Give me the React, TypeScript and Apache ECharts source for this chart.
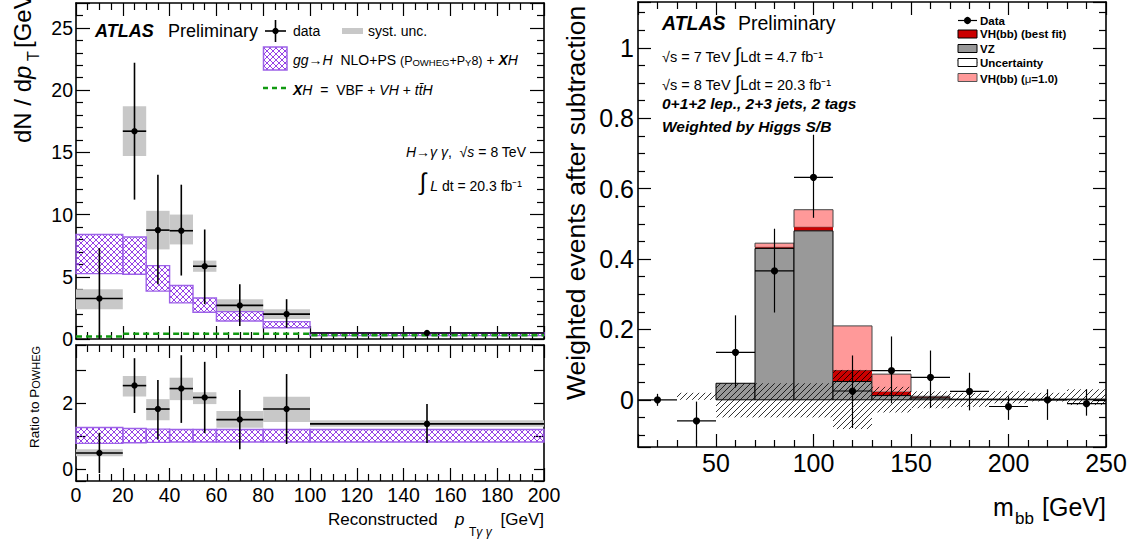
import React, { useEffect, useRef } from "react";
import * as echarts from "echarts";

const FONT = '"Liberation Sans", Arial, Helvetica, sans-serif';

// ---------- Left plot: H -> gamma gamma, reconstructed pT ----------
const ptEdges = [0, 20, 30, 40, 50, 60, 80, 100, 200];
const ptData = [3.25, 16.7, 8.75, 8.7, 5.85, 2.7, 2.0, 0.48];
const ptErrHi = [7.3, 22.2, 13.2, 12.4, 8.8, 4.4, 3.2, 0.62];
const ptErrLo = [0.0, 11.2, 4.4, 5.1, 2.8, 1.05, 0.9, 0.34];
const ptSystHi = [4.0, 18.7, 10.3, 10.0, 6.3, 3.2, 2.4, 0.52];
const ptSystLo = [2.4, 14.7, 7.2, 7.6, 5.4, 2.25, 1.6, 0.44];
const ggHHi = [8.4, 8.2, 5.9, 4.3, 3.3, 2.2, 1.4, 0.5];
const ggHLo = [5.25, 5.2, 3.85, 2.9, 2.15, 1.45, 0.9, 0.27];
const xhVals = [0.2, 0.43, 0.43, 0.43, 0.43, 0.43, 0.43, 0.3];

const ratioData = [0.49, 2.53, 1.82, 2.44, 2.17, 1.5, 1.82, 1.37];
const ratioErrHi = [1.1, 3.36, 2.7, 3.45, 3.25, 2.4, 2.88, 1.97];
const ratioErrLo = [-0.12, 1.7, 0.9, 1.4, 1.09, 0.6, 0.76, 0.79];
const ratioSystHi = [0.6, 2.82, 2.12, 2.77, 2.33, 1.76, 2.19, 1.48];
const ratioSystLo = [0.39, 2.2, 1.48, 2.09, 1.97, 1.25, 1.43, 1.28];
const ratioBandHi = [1.26, 1.23, 1.21, 1.2, 1.2, 1.2, 1.2, 1.2];
const ratioBandLo = [0.78, 0.8, 0.81, 0.82, 0.82, 0.82, 0.82, 0.82];

const ptTickLabels = [0, 20, 40, 60, 80, 100, 120, 140, 160, 180, 200];
const dndpTickLabels = [0, 5, 10, 15, 20, 25];
const ratioTickLabels = [0, 2];

// ---------- Right plot: m_bb ----------
const mbbEdges = [10, 30, 50, 70, 90, 110, 130, 150, 170, 190, 210, 230, 250];
const vzVals = [0, 0, 0.047, 0.43, 0.48, 0.052, 0.012, 0.005, 0.002, 0.002, 0.002, 0.002];
const vhFitVals = [0, 0, 0, 0.003, 0.01, 0.031, 0.01, 0.001, 0, 0, 0, 0];
const vhSMVals = [0, 0, 0, 0.012, 0.05, 0.127, 0.051, 0.004, 0, 0, 0, 0];
const uncLoVals = [0, 0, -0.05, -0.05, -0.05, -0.083, -0.036, -0.024, -0.02, -0.01, -0.005, -0.015];
const uncHiVals = [0, 0.02, 0.047, 0.047, 0.047, 0.085, 0.037, 0.024, 0.02, 0.025, 0.02, 0.03];
const mbbData = [0.0, -0.06, 0.135, 0.366, 0.632, 0.025, 0.083, 0.064, 0.024, -0.019, 0.0, -0.011];
const mbbErrHi = [0.017, -0.005, 0.24, 0.486, 0.753, 0.126, 0.18, 0.14, 0.077, 0.01, 0.03, 0.03];
const mbbErrLo = [-0.017, -0.125, 0.035, 0.248, 0.517, -0.08, -0.01, -0.023, -0.03, -0.057, -0.057, -0.045];

const mbbTickLabels = [50, 100, 150, 200, 250];
const weightTickLabels = [0, 0.2, 0.4, 0.6, 0.8, 1];

// ---------- colours ----------
const PURPLE = "#8a2be2";
const PURPLE_EDGE = "#9d62e8";
const SYST_GRAY = "#c8c8c8";
const GREEN = "#119a11";

// ---------- helpers ----------
function hatchLines(x0: number, y0: number, x1: number, y1: number, step: number, dir: string, style: any) {
  const out: any[] = [];
  if (x1 - x0 < 0.5 || y1 - y0 < 0.5) return out;
  if (dir === "/") {
    const start = Math.ceil((x0 + y0) / step) * step;
    for (let c = start; c <= x1 + y1; c += step) {
      const lo = Math.max(x0, c - y1);
      const hi = Math.min(x1, c - y0);
      if (hi - lo > 0.3) out.push({ type: "line", shape: { x1: lo, y1: c - lo, x2: hi, y2: c - hi }, style });
    }
  } else {
    const start = Math.ceil((y0 - x1) / step) * step;
    for (let c = start; c <= y1 - x0; c += step) {
      const lo = Math.max(x0, y0 - c);
      const hi = Math.min(x1, y1 - c);
      if (hi - lo > 0.3) out.push({ type: "line", shape: { x1: lo, y1: lo + c, x2: hi, y2: hi + c }, style });
    }
  }
  return out;
}

const boxRows = (edges: number[], lo: number[], hi: number[]) => lo.map((l, i) => [edges[i], edges[i + 1], l, hi[i]]);
const pointRows = (edges: number[], v: number[], lo: number[], hi: number[]) =>
  v.map((y, i) => [edges[i], edges[i + 1], y, lo[i], hi[i]]);

const rectOf = (api: any) => {
  const a = api.coord([api.value(0), api.value(2)]);
  const b = api.coord([api.value(1), api.value(3)]);
  return { x0: a[0], x1: b[0], yb: a[1], yt: b[1] };
};

const renderBox = (fill: string) => (_p: any, api: any) => {
  const r = rectOf(api);
  return { type: "rect", shape: { x: r.x0, y: r.yt, width: r.x1 - r.x0, height: r.yb - r.yt }, style: { fill } };
};

const renderCross = (_p: any, api: any) => {
  const r = rectOf(api);
  const st = { stroke: PURPLE, lineWidth: 0.9 };
  return {
    type: "group",
    children: [
      ...hatchLines(r.x0, r.yt, r.x1, r.yb, 6, "/", st),
      ...hatchLines(r.x0, r.yt, r.x1, r.yb, 6, "\\", st),
      {
        type: "rect",
        shape: { x: r.x0, y: r.yt, width: r.x1 - r.x0, height: r.yb - r.yt },
        style: { fill: "none", stroke: PURPLE_EDGE, lineWidth: 1.4 },
      },
    ],
  };
};

const renderPoint = (rad: number, lw: number) => (_p: any, api: any) => {
  const x0 = api.value(0), x1 = api.value(1), v = api.value(2), lo = api.value(3), hi = api.value(4);
  const xc = (x0 + x1) / 2;
  const c = api.coord([xc, v]);
  const l = api.coord([x0, v]);
  const r = api.coord([x1, v]);
  const t = api.coord([xc, hi]);
  const b = api.coord([xc, lo]);
  const st = { stroke: "#000", lineWidth: lw };
  return {
    type: "group",
    children: [
      { type: "line", shape: { x1: l[0], y1: c[1], x2: r[0], y2: c[1] }, style: st },
      { type: "line", shape: { x1: c[0], y1: t[1], x2: c[0], y2: b[1] }, style: st },
      { type: "circle", shape: { cx: c[0], cy: c[1], r: rad }, style: { fill: "#000" } },
    ],
  };
};

const renderStack = (_p: any, api: any) => {
  const x0 = api.value(0), x1 = api.value(1), vz = api.value(2), fit = api.value(3), sm = api.value(4);
  const levels = [0, vz, vz + fit, vz + fit + sm];
  const py = levels.map((v) => api.coord([x0, v])[1]);
  const xl = api.coord([x0, 0])[0];
  const xr = api.coord([x1, 0])[0];
  const rect = (ya: number, yb: number, style: any) => ({
    type: "rect",
    shape: { x: xl, y: yb, width: xr - xl, height: ya - yb },
    style,
  });
  const ch: any[] = [];
  if (sm > 0) ch.push(rect(py[2], py[3], { fill: "#ff9999", stroke: "#444", lineWidth: 1 }));
  if (fit > 0) ch.push(rect(py[1], py[2], { fill: "#cc0000" }));
  if (vz > 0) ch.push(rect(py[0], py[1], { fill: "#999999", stroke: "#000", lineWidth: 1 }));
  return { type: "group", children: ch };
};

const renderUnc = (_p: any, api: any) => {
  const r = rectOf(api);
  return { type: "group", children: hatchLines(r.x0, r.yt, r.x1, r.yb, 6, "/", { stroke: "#000", lineWidth: 0.8 }) };
};

const custom = (xi: number, yi: number, data: any[], renderItem: any, z: number) => ({
  type: "custom",
  xAxisIndex: xi,
  yAxisIndex: yi,
  data,
  renderItem,
  z,
  silent: true,
});

function mkAxis(gridIndex: number, position: string, min: number, max: number, o: any) {
  const labels: number[] | undefined = o.labels;
  return {
    type: "value",
    gridIndex,
    position,
    min,
    max,
    interval: o.interval,
    splitNumber: o.splitNumber,
    axisLine: { show: true, onZero: false, lineStyle: { color: "#000", width: 1.6 } },
    axisTick: { show: true, inside: true, length: o.major, lineStyle: { color: "#000", width: 1.2 } },
    minorTick: {
      show: !!o.minorSplit,
      splitNumber: o.minorSplit || 5,
      length: o.minor,
      lineStyle: { color: "#000", width: 1.2 },
    },
    splitLine: { show: false },
    minorSplitLine: { show: false },
    axisPointer: { show: false },
    axisLabel: labels
      ? {
          show: true,
          margin: o.margin,
          fontSize: o.fontSize,
          fontFamily: FONT,
          color: "#000",
          showMinLabel: true,
          showMaxLabel: true,
          formatter: (v: number) => {
            const hit = labels.find((l) => Math.abs(l - v) < 1e-6);
            return hit === undefined ? "" : String(hit);
          },
        }
      : { show: false },
  };
}

const rt = (size: number, style = "normal", weight = "normal", extra: any = {}) => ({
  fontFamily: FONT,
  fontSize: size,
  fontStyle: style,
  fontWeight: weight,
  fill: "#000",
  verticalAlign: "bottom",
  lineHeight: Math.round(size * 1.25),
  ...extra,
});

const txt = (x: number, y: number, text: string, size: number, ex: any = {}) => ({
  type: "text",
  x,
  y,
  silent: true,
  rotation: ex.rotation || 0,
  z: 50,
  style: {
    text,
    fill: "#000",
    fontFamily: FONT,
    fontSize: size,
    fontWeight: ex.weight || "normal",
    fontStyle: ex.italic ? "italic" : "normal",
    align: ex.align || "left",
    verticalAlign: ex.va || "middle",
    textAlign: ex.align || "left",
    textVerticalAlign: ex.va || "middle",
    rich: ex.rich,
  },
});

const ln = (x1: number, y1: number, x2: number, y2: number, style: any) => ({
  type: "line",
  silent: true,
  z: 50,
  shape: { x1, y1, x2, y2 },
  style,
});

const box = (x: number, y: number, w: number, h: number, style: any) => ({
  type: "rect",
  silent: true,
  z: 50,
  shape: { x, y, width: w, height: h },
  style,
});

function buildOption() {
  const gRow = (v: number[]) => [...ptEdges.slice(0, -1).map((e, i) => [e, v[i]]), [ptEdges[ptEdges.length - 1], v[v.length - 1]]];

  const leftX = { interval: 20, minorSplit: 4, major: 13, minor: 7 };
  const xAxis = [
    mkAxis(0, "bottom", 0, 200, leftX),
    mkAxis(0, "top", 0, 200, leftX),
    mkAxis(1, "bottom", 0, 200, { ...leftX, labels: ptTickLabels, fontSize: 19.5, margin: 4 }),
    mkAxis(1, "top", 0, 200, leftX),
    mkAxis(2, "bottom", 10, 250, { splitNumber: 5, minorSplit: 5, major: 13, minor: 7, labels: mbbTickLabels, fontSize: 25, margin: 3 }),
    mkAxis(2, "top", 10, 250, { splitNumber: 5, minorSplit: 5, major: 13, minor: 7 }),
  ];
  const topY = { interval: 5, minorSplit: 5, major: 14, minor: 7 };
  const ratioY = { splitNumber: 4, minorSplit: 0, major: 10, minor: 5 };
  const rightY = { splitNumber: 6, minorSplit: 4, major: 13, minor: 7 };
  const yAxis = [
    mkAxis(0, "left", 0, 27, { ...topY, labels: dndpTickLabels, fontSize: 19.5, margin: 3 }),
    mkAxis(0, "right", 0, 27, topY),
    mkAxis(1, "left", -0.36, 3.76, { ...ratioY, labels: ratioTickLabels, fontSize: 19.5, margin: 3 }),
    mkAxis(1, "right", -0.36, 3.76, ratioY),
    mkAxis(2, "left", -0.134, 1.13, { ...rightY, labels: weightTickLabels, fontSize: 25, margin: 4 }),
    mkAxis(2, "right", -0.134, 1.13, rightY),
  ];

  const series: any[] = [
    // left top panel
    custom(0, 0, boxRows(ptEdges, ptSystLo, ptSystHi), renderBox(SYST_GRAY), 2),
    custom(0, 0, boxRows(ptEdges, ggHLo, ggHHi), renderCross, 3),
    {
      type: "line",
      xAxisIndex: 0,
      yAxisIndex: 0,
      data: gRow(xhVals),
      step: "end",
      symbol: "none",
      silent: true,
      z: 4,
      lineStyle: { color: GREEN, width: 2.5, type: [6, 4] },
    },
    custom(0, 0, pointRows(ptEdges, ptData, ptErrLo, ptErrHi), renderPoint(3.2, 1.6), 5),
    // left ratio panel
    custom(2, 2, boxRows(ptEdges, ratioSystLo, ratioSystHi), renderBox(SYST_GRAY), 2),
    custom(2, 2, boxRows(ptEdges, ratioBandLo, ratioBandHi), renderCross, 3),
    custom(2, 2, pointRows(ptEdges, ratioData, ratioErrLo, ratioErrHi), renderPoint(3.2, 1.6), 5),
    // right panel
    custom(
      4,
      4,
      vzVals.map((v, i) => [mbbEdges[i], mbbEdges[i + 1], v, vhFitVals[i], vhSMVals[i]]),
      renderStack,
      2
    ),
    custom(4, 4, boxRows(mbbEdges, uncLoVals, uncHiVals), renderUnc, 3),
    custom(4, 4, pointRows(mbbEdges, mbbData, mbbErrLo, mbbErrHi), renderPoint(3.6, 1.2), 5),
  ];

  const purpleBox = { x0: 263.5, y0: 47, x1: 287, y1: 70 };
  const legendHatch = { stroke: PURPLE, lineWidth: 0.9 };
  const uncBox = { x0: 958, y0: 58.5, x1: 977, y1: 66.5 };

  const elements: any[] = [
    // ---- left plot labels ----
    txt(95, 31, "ATLAS", 18, { weight: "bold", italic: true }),
    txt(168, 31, "Preliminary", 18),
    ln(275.5, 20, 275.5, 42, { stroke: "#000", lineWidth: 1.6 }),
    ln(265, 31, 286, 31, { stroke: "#000", lineWidth: 1.6 }),
    { type: "circle", silent: true, z: 50, shape: { cx: 275.5, cy: 31, r: 3.2 }, style: { fill: "#000" } },
    txt(293, 31, "data", 14),
    box(342, 28, 21, 6, { fill: SYST_GRAY }),
    txt(368, 31, "syst. unc.", 14),
    {
      type: "group",
      silent: true,
      z: 50,
      children: [
        ...hatchLines(purpleBox.x0, purpleBox.y0, purpleBox.x1, purpleBox.y1, 6, "/", legendHatch),
        ...hatchLines(purpleBox.x0, purpleBox.y0, purpleBox.x1, purpleBox.y1, 6, "\\", legendHatch),
        {
          type: "rect",
          shape: { x: purpleBox.x0, y: purpleBox.y0, width: purpleBox.x1 - purpleBox.x0, height: purpleBox.y1 - purpleBox.y0 },
          style: { fill: "none", stroke: PURPLE_EDGE, lineWidth: 1.5 },
        },
      ],
    },
    txt(293, 58, "{i|gg}{n|→}{i|H}{n|  NLO+PS }{p|(P}{sc|OWHEG}{p|+P}{sc|Y}{p|8)}{n| + }{bi|X}{i|H}", 14, {
      rich: {
        n: rt(14),
        i: rt(14, "italic"),
        bi: rt(14, "italic", "bold"),
        p: rt(12.5),
        sc: rt(9.5),
      },
    }),
    ln(263, 88, 287, 88, { stroke: GREEN, lineWidth: 2.5, lineDash: [5, 4] }),
    txt(293, 88, "{bi|X}{i|H}{n|  =  VBF + }{i|VH}{n| + }{i|tt̄H}", 14, {
      rich: { n: rt(14), i: rt(14, "italic"), bi: rt(14, "italic", "bold") },
    }),
    txt(526, 150, "{i|H}{n|→}{i|γ γ}{n|,  √}{i|s}{n| = 8 TeV}", 14, {
      align: "right",
      rich: { n: rt(14), i: rt(14, "italic") },
    }),
    txt(522, 180, "{int|∫}{i| L}{n| dt = 20.3 fb⁻¹}", 14, {
      align: "right",
      rich: { n: rt(14), i: rt(14, "italic"), int: rt(24, "normal", "normal", { lineHeight: 26 }) },
    }),
    // left y title
    txt(22, 143, "{n|dN / d}{i|p}", 24, {
      rotation: Math.PI / 2,
      rich: { n: rt(24, "normal", "normal", { verticalAlign: "middle" }), i: rt(24, "italic", "normal", { verticalAlign: "middle" }) },
    }),
    txt(33, 61, "T", 16, { rotation: Math.PI / 2 }),
    txt(22, 48, "[GeV⁻¹]", 24, { rotation: Math.PI / 2 }),
    // ratio title
    txt(33, 448, "{n|Ratio to P}{sc|OWHEG}", 13.5, {
      rotation: Math.PI / 2,
      rich: { n: rt(13.5), sc: rt(11) },
    }),
    // left x title
    txt(328, 519, "Reconstructed", 17),
    txt(455, 519, "p", 17, { italic: true }),
    txt(469, 530, "{n|T}{i|γ γ}", 12, { rich: { n: rt(12), i: rt(12, "italic") } }),
    txt(544, 519, "[GeV]", 17, { align: "right" }),

    // ---- right plot labels ----
    txt(662, 23, "ATLAS", 19.5, { weight: "bold", italic: true }),
    txt(738, 23, "Preliminary", 19.5),
    txt(662, 52, "{n|√s = 7 TeV }{int|∫}{n|Ldt = 4.7 fb⁻¹}", 14.5, {
      rich: { n: rt(14.5), int: rt(20) },
    }),
    txt(662, 80, "{n|√s = 8 TeV }{int|∫}{n|Ldt = 20.3 fb⁻¹}", 14.5, {
      rich: { n: rt(14.5), int: rt(20) },
    }),
    txt(662, 103, "0+1+2 lep., 2+3 jets, 2 tags", 15.5, { weight: "bold", italic: true }),
    txt(662, 126, "Weighted by Higgs S/B", 15.5, { weight: "bold", italic: true }),
    // right legend
    ln(958, 20.5, 977, 20.5, { stroke: "#000", lineWidth: 1.2 }),
    { type: "circle", silent: true, z: 50, shape: { cx: 967.5, cy: 20.5, r: 3.6 }, style: { fill: "#000" } },
    txt(980, 20.5, "Data", 11.5, { weight: "bold" }),
    box(958, 30, 19, 8, { fill: "#cc0000", stroke: "#000", lineWidth: 1 }),
    txt(980, 34, "VH(bb) (best fit)", 11.5, { weight: "bold" }),
    box(958, 44.5, 19, 8, { fill: "#999999", stroke: "#000", lineWidth: 1 }),
    txt(980, 48.5, "VZ", 11.5, { weight: "bold" }),
    box(uncBox.x0, uncBox.y0, uncBox.x1 - uncBox.x0, uncBox.y1 - uncBox.y0, { fill: "#fff", stroke: "#000", lineWidth: 1 }),
    {
      type: "group",
      silent: true,
      z: 51,
      children: hatchLines(uncBox.x0, uncBox.y0, uncBox.x1, uncBox.y1, 3.5, "/", { stroke: "#000", lineWidth: 1 }),
    },
    txt(980, 62.5, "Uncertainty", 11.5, { weight: "bold" }),
    box(958, 73.5, 19, 8, { fill: "#ff9999", stroke: "#555", lineWidth: 1 }),
    txt(980, 77.5, "{b|VH(bb) (}{m|μ}{b|=1.0)}", 11.5, {
      rich: { b: rt(11.5, "normal", "bold"), m: rt(11.5) },
    }),
    // right titles
    txt(576, 400, "Weighted events after subtraction", 26.5, { rotation: Math.PI / 2 }),
    txt(993, 507, "m", 25),
    txt(1015, 518, "bb", 17),
    txt(1106, 507, "[GeV]", 25, { align: "right" }),
  ];

  return {
    animation: false,
    backgroundColor: "#fff",
    textStyle: { fontFamily: FONT },
    grid: [
      { left: 76, top: 3, width: 468, height: 336, containLabel: false, outerBoundsMode: "none" },
      { left: 76, top: 345, width: 468, height: 136, containLabel: false, outerBoundsMode: "none" },
      { left: 638, top: 2, width: 468, height: 445, containLabel: false, outerBoundsMode: "none" },
    ],
    xAxis,
    yAxis,
    series,
    graphic: { elements },
  };
}

export default function App() {
  const ref = useRef<HTMLDivElement>(null);
  useEffect(() => {
    document.body.style.margin = "0";
    const chart = echarts.init(ref.current as HTMLDivElement, null, { renderer: "svg" });
    chart.setOption(buildOption() as any);
    return () => chart.dispose();
  }, []);
  return (
    <div
      ref={ref}
      style={{ position: "absolute", left: 0, top: 0, width: 1134, height: 543, background: "#fff" }}
    />
  );
}
